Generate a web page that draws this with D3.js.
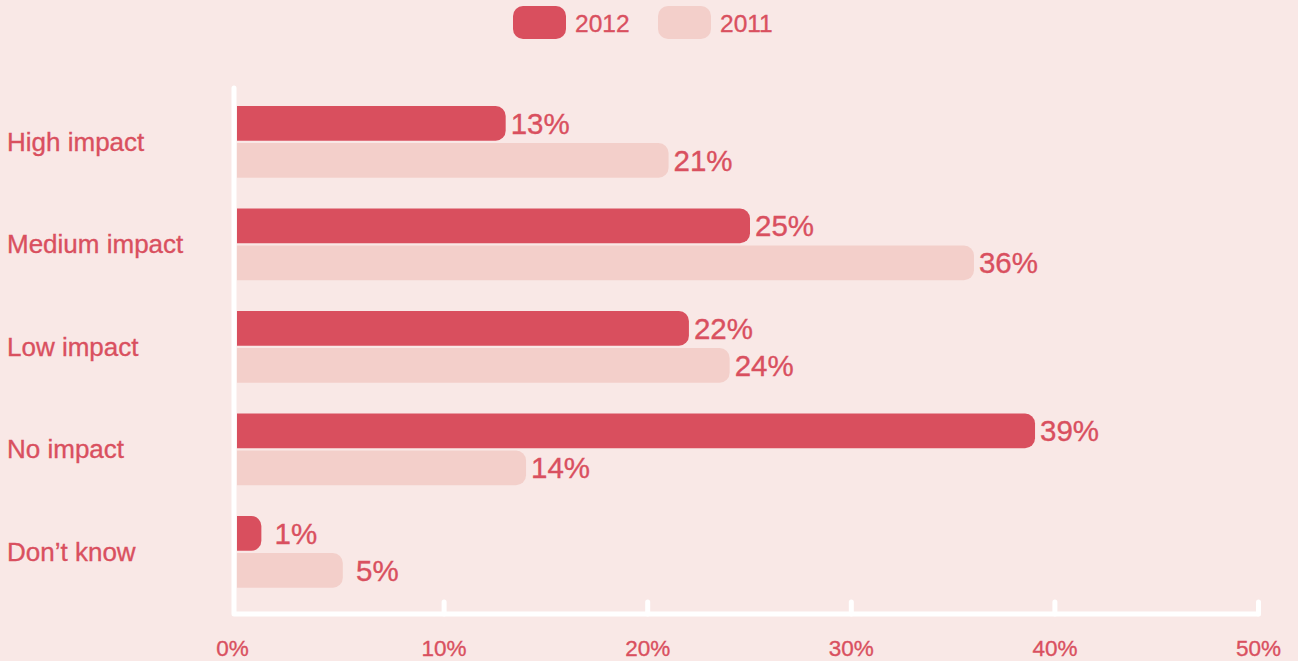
<!DOCTYPE html>
<html>
<head>
<meta charset="utf-8">
<script src="https://cdn.jsdelivr.net/npm/d3@7"></script>
<style>
  html, body { margin: 0; padding: 0; background: #f9e8e6; }
  svg { display: block; font-family: "Liberation Sans", Arial, Helvetica, sans-serif; }
  svg text { stroke: #d9505f; stroke-width: 0.35px; }
</style>
</head>
<body>
<div id="chart"></div>
<script>
// Podatki
const categories = ["High impact", "Medium impact", "Low impact", "No impact", "Don\u2019t know"];
const years = ["2012", "2011"];
const values2012 = [13, 25, 22, 39, 1];
const values2011 = [21, 36, 24, 14, 5];
const tickValues = [0, 10, 20, 30, 40, 50];

const colors = { "2012": "#d94f5e", "2011": "#f3cfca" };
const textColor = "#d9505f";

const width = 1298;
const height = 661;

const rows = categories.map((c, i) => ({
    category: c,
    values: [
        { year: "2012", value: values2012[i] },
        { year: "2011", value: values2011[i] }
    ]
}));

// Skale
const xScale = d3.scaleLinear()
    .domain([0, 50])
    .range([240, 1258]);

const yScale = d3.scaleBand()
    .domain(categories)
    .range([90.6, 603.1])
    .paddingInner(0.3)
    .paddingOuter(0.15);

const yInner = d3.scaleBand()
    .domain(years)
    .range([0, yScale.bandwidth()])
    .paddingInner(0.06);

const svg = d3.select("#chart")
    .append("svg")
    .attr("width", width)
    .attr("height", height);

svg.append("rect")
    .attr("width", width)
    .attr("height", height)
    .attr("fill", "#f9e8e6");

// pravokotnik z zaobljenim desnim robom
function barPath(x0, x1, y, h, r) {
    r = Math.min(r, (x1 - x0) / 2, h / 2);
    return `M${x0},${y}H${x1 - r}A${r},${r} 0 0 1 ${x1},${y + r}V${y + h - r}A${r},${r} 0 0 1 ${x1 - r},${y + h}H${x0}Z`;
}

const groups = svg.append("g")
    .selectAll(".group")
    .data(rows)
    .enter()
    .append("g")
    .attr("class", "group")
    .attr("transform", d => `translate(0,${yScale(d.category)})`);

groups.selectAll(".bar")
    .data(d => d.values)
    .enter()
    .append("path")
    .attr("class", "bar")
    .attr("fill", d => colors[d.year])
    .attr("d", d => barPath(xScale(0) - 3, xScale(d.value) + 1, yInner(d.year), yInner.bandwidth(), 10));

// Vrednosti ob stolpcih
const fmt = v => (v < 10 ? " " : "") + v + "%";
groups.selectAll(".label")
    .data(d => d.values)
    .enter()
    .append("text")
    .attr("class", "label")
    .attr("x", d => xScale(d.value) + 6)
    .attr("y", d => yInner(d.year) + yInner.bandwidth() / 2)
    .attr("dy", "0.36em")
    .attr("fill", textColor)
    .style("font-size", "29.5px")
    .style("white-space", "pre")
    .text(d => fmt(d.value));

// Oznake kategorij
svg.append("g")
    .selectAll("text")
    .data(categories)
    .enter()
    .append("text")
    .attr("x", 7)
    .attr("y", d => yScale(d) + yScale.bandwidth() / 2)
    .attr("dy", "0.34em")
    .attr("fill", textColor)
    .style("font-size", "26px")
    .text(d => d);

// Os X
const xAxis = svg.append("g")
    .attr("transform", `translate(0,614)`)
    .call(d3.axisBottom(xScale)
        .tickValues(tickValues)
        .tickSize(-12)
        .tickSizeOuter(0)
        .tickPadding(26)
        .tickFormat(d => d + "%"));

xAxis.select(".domain").remove();
xAxis.selectAll(".tick line")
    .attr("stroke", "#fff")
    .attr("stroke-width", 5)
    .attr("stroke-linecap", "round")
    .attr("opacity", d => d === 0 ? 0 : 1);
xAxis.selectAll(".tick text")
    .attr("fill", textColor)
    .attr("font-family", null)
    .attr("font-size", null)
    .attr("dx", d => d === 0 ? -8 : 0)
    .style("font-size", "22.5px");

// Osna črta (navpična + vodoravna)
svg.append("path")
    .attr("d", `M${xScale(0) - 6},88V614H${xScale(50)}`)
    .attr("fill", "none")
    .attr("stroke", "#fff")
    .attr("stroke-width", 5)
    .attr("stroke-linecap", "round")
    .attr("stroke-linejoin", "round");

// Legenda
const legend = svg.append("g")
    .selectAll(".legend")
    .data(years)
    .enter()
    .append("g")
    .attr("class", "legend")
    .attr("transform", (d, i) => `translate(${513 + i * 145},6)`);

legend.append("rect")
    .attr("width", 53)
    .attr("height", 33)
    .attr("rx", 10)
    .attr("fill", d => colors[d]);

legend.append("text")
    .attr("x", 62)
    .attr("y", 17)
    .attr("dy", "0.35em")
    .attr("fill", textColor)
    .style("font-size", "24.5px")
    .text(d => d);
</script>
</body>
</html>
